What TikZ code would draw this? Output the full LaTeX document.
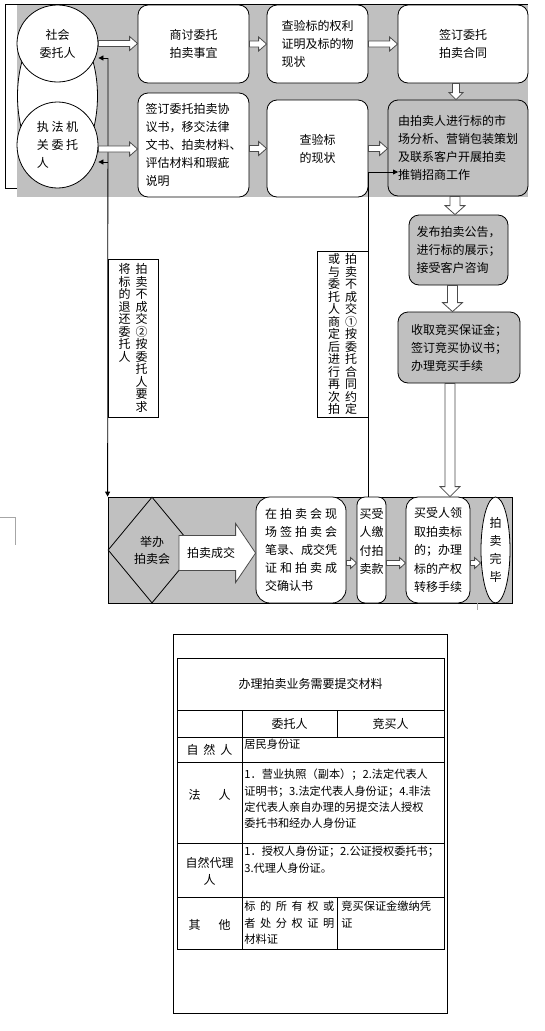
\documentclass[tikz,border=0pt]{standalone}
\usepackage{fontspec}
\setmainfont{Noto Sans CJK SC}
\usetikzlibrary{calc,shapes.geometric,arrows.meta}
\definecolor{bggray}{RGB}{192,192,192}
\makeatletter
\newcommand{\vcol}[1]{\vtop{\baselineskip=12.5pt\lineskiplimit=-20pt\@tfor\vch:=#1\do{\hbox to 12pt{\hss\vch\hss}}}}
\makeatother
\newcommand{\jl}[2]{\makebox[#1][s]{#2}}

\begin{document}
\begin{tikzpicture}[x=1pt, y=-1pt, line width=0.8pt,
    box/.style={draw, fill=white, rounded corners=10pt, align=center, inner sep=2pt, font=\fontsize{12}{18}\selectfont},
    gbox/.style={box, fill=bggray},
    circ/.style={ellipse, draw, fill=white, inner sep=0pt, align=center, font=\fontsize{12}{18}\selectfont},
    dia/.style={diamond, draw, fill=bggray, inner sep=0pt, align=center, font=\fontsize{12}{17}\selectfont},
    vlbl/.style={draw, fill=white, inner sep=0pt, font=\fontsize{12}{12.5}\selectfont},
    head/.style={inner sep=0pt, align=center, font=\fontsize{12}{17}\selectfont},
    cell/.style={inner sep=0pt, align=left, font=\fontsize{11.2}{16.2}\selectfont},
    hollow/.style={draw=black!70, fill=white, line width=0.8pt},
    hollowr/.style n args={3}{hollow, to path={let \p1=(\tikztostart), \p2=(\tikztotarget) in
        (\x1,\y1+#1) -- (\x2-#3,\y1+#1) -- (\x2-#3,\y1+#2) -- (\x2,\y1)
        -- (\x2-#3,\y1-#2) -- (\x2-#3,\y1-#1) -- (\x1,\y1-#1) -- cycle}},
    hollowd/.style n args={3}{hollow, to path={let \p1=(\tikztostart), \p2=(\tikztotarget) in
        (\x1-#1,\y1) -- (\x1-#1,\y2+#3) -- (\x1-#2,\y2+#3) -- (\x1,\y2)
        -- (\x1+#2,\y2+#3) -- (\x1+#1,\y2+#3) -- (\x1+#1,\y1) -- cycle}},
    thinarr/.style={-{Triangle[length=5pt,width=5pt]}}
]
\useasboundingbox (0,0) rectangle (544,1031);

% --- Zona superior:委托阶段 ---
\fill[bggray] (17,4) rectangle (528,197);
\draw (17,188) -- (5,188) -- (5,4) -- (528,4);

\node[circ, minimum width=80, minimum height=150] (mid) at (57.5,96) {};
\node[circ, minimum width=81, minimum height=77] (sh) at (57.5,43.5) {社会\\委托人};
\node[circ, align=left, minimum width=81, minimum height=86] (zf) at (57.5,145) {执\ 法\ 机\\关\ 委\ 托\\人};

\node[box, minimum width=111, minimum height=78] (st) at (193.5,44) {商讨委托\\拍卖事宜};
\node[box, align=left, minimum width=101, minimum height=78] (cy1) at (317.5,44) {查验标的权利\\证明及标的物\\现状};
\node[box, minimum width=130, minimum height=78] (qht) at (463,44) {签订委托\\拍卖合同};

\node[box, align=left, minimum width=111, minimum height=104] (qxy) at (193.5,145) {签订委托拍卖协\\议书，移交法律\\文书、拍卖材料、\\评估材料和瑕疵\\说明};
\node[box, minimum width=101, minimum height=97] (cy2) at (317.5,148.5) {查验标\\的现状};
\node[gbox, align=left, minimum width=140, minimum height=96] (pm) at (458,148) {由拍卖人进行标的市\\场分析、营销包装策划\\及联系客户开展拍卖\\推销招商工作};

% --- 右列: 公告与竞买 ---
\node[gbox, align=left, minimum width=99, minimum height=70] (fb) at (458.5,250) {发布拍卖公告，\\进行标的展示；\\接受客户咨询};
\node[gbox, align=left, minimum width=122, minimum height=71] (sq) at (459,347.5) {收取竞买保证金；\\签订竞买协议书；\\办理竞买手续};

% --- 下部: 拍卖会 ---
\node[draw, fill=bggray, minimum width=404, minimum height=106, inner sep=0pt] (bot) at (310,550) {};
\node[dia, minimum width=88, minimum height=106] (jb) at (152,550) {举办\\拍卖会};
\coordinate (cjs) at (179,553);
\node[box, align=left, minimum width=90, minimum height=106, rounded corners=14pt] (xc) at (301,550) {\jl{72pt}{在 拍 卖 会 现}\\\jl{72pt}{场 签 拍 卖 会}\\笔录、成交凭\\\jl{72pt}{证 和 拍 卖 成}\\交确认书};
\node[box, inner sep=1pt, minimum width=29, minimum height=106, rounded corners=8pt, font=\fontsize{12}{18.5}\selectfont] (mf) at (371.5,550) {买受\\人缴\\付拍\\卖款\\\mbox{}};
\node[box, minimum width=64, minimum height=106, rounded corners=12pt, font=\fontsize{12}{18.5}\selectfont] (lq) at (438,550) {买受人领\\取拍卖标\\的；办理\\标的产权\\转移手续};
\node[circ, minimum width=29, minimum height=106] (wb) at (495.5,550) {拍\\卖\\完\\毕};

% --- 细线: 拍卖不成交的回路 ---
\coordinate (lt) at (108,58);
\coordinate (lm) at (108,162);
\coordinate (pin) at (398,172);
\draw[thinarr] (lt) -- (lt -| sh.east);
\draw[thinarr] (lm) -- (lm -| zf.east);
\draw[thinarr] (lt) -- (bot.north west);
\draw[thinarr] (cy2.east |- bot.north) |- (pin);

\node[vlbl, minimum width=50, minimum height=158] (lb2) at (133,338) {\vcol{将标的退还委托人}\hspace{5pt}\vcol{拍卖不成交②按委托人要求}};
\node[vlbl, minimum width=51, minimum height=166] (lb1) at (342.5,334) {\vcol{或与委托人商定后进行再次拍}\hspace{5pt}\vcol{拍卖不成交①按委托合同约定}};

% --- 空心箭头 ---
\draw[hollowr={3pt}{7pt}{8pt}] (sh.east) to (st.west);
\draw[hollowr={3pt}{7pt}{8pt}] (st.east) to (cy1.west);
\draw[hollowr={3pt}{7pt}{8pt}] (cy1.east) to (qht.west);
\draw[hollowr={3pt}{7pt}{8pt}] ($(zf.east)+(0,4)$) to (qxy.west);
\draw[hollowr={3pt}{7pt}{8pt}] (qxy.east |- cy2) to (cy2.west);
\draw[hollowr={3pt}{7pt}{8pt}] (cy2.east) to (pm.west);
\draw[hollowd={3.5pt}{7pt}{7pt}] ($(qht.south)+(-7,0)$) to (pm.north);
\draw[hollowd={5pt}{10pt}{9pt}] ($(pm.south)+(-3,0)$) to (fb.north);
\draw[hollowd={5pt}{10pt}{9pt}] ($(fb.south)+(-6,0)$) to (sq.north);
\draw[hollowd={5pt}{10pt}{10pt}] ($(sq.south)+(-9,0)$) to (bot.north);

\draw[hollowr={17.5pt}{29.5pt}{20pt}] (cjs) to (xc.west);
\node[font=\fontsize{12}{18}\selectfont] (cjt) at (211,553) {拍卖成交};
\draw[hollowr={2.5pt}{5.5pt}{6pt}] ($(xc.east)+(0,13)$) to (mf.west);
\draw[hollowr={2.5pt}{5.5pt}{6pt}] ($(mf.east)+(0,13)$) to (lq.west);
\draw[hollowr={2.5pt}{5.5pt}{6pt}] ($(lq.east)+(0,13)$) to (wb.west);

% --- 页面标记 ---
\draw[black!35, line width=0.6pt] (0,517) -- (15,517) -- (15,545);
\draw[black!35, line width=0.6pt] (477,603) -- (477,610);

% --- 表格: 需要提交材料 ---
\draw (173,634) rectangle (447,1013);
\draw (177,658) rectangle (444,949);
\foreach \y in {710,737,762,843,897}
    \draw (177,\y) -- (444,\y);
\draw (242,710) -- (242,949);
\draw (337,710) -- (337,737);
\draw (337,897) -- (337,949);

\node[head] (tt) at (310.5,684) {办理拍卖业务需要提交材料};
\node[head] (hw) at (289.5,723.5) {委托人};
\node[head] (hj) at (390.5,723.5) {竞买人};
\node[head] (rz) at (209.5,750) {自\hspace{5pt}然\hspace{5pt}人};
\node[head] (rf) at (209.5,795) {法\hspace{18pt}人};
\node[head] (rd) at (209.5,871) {自然代理\\人};
\node[head] (rq) at (209.5,925) {其\hspace{18pt}他};

\node[cell, anchor=north west] (cz) at (244,739) {居民身份证};
\node[cell, anchor=north west] (cf) at (244,769) {1．营业执照（副本）；2.法定代表人\\证明书；3.法定代表人身份证；4.非法\\定代表人亲自办理的另提交法人授权\\委托书和经办人身份证};
\node[cell, anchor=north west] (cd) at (244,846) {1．授权人身份证；2.公证授权委托书；\\3.代理人身份证。};
\node[cell, anchor=north west] (cq) at (244,901) {\jl{90pt}{标 的 所 有 权 或}\\\jl{90pt}{者 处 分 权 证 明}\\材料证};
\node[cell, anchor=north west] (cm) at (341,901) {竞买保证金缴纳凭\\证};

\end{tikzpicture}
\end{document}
